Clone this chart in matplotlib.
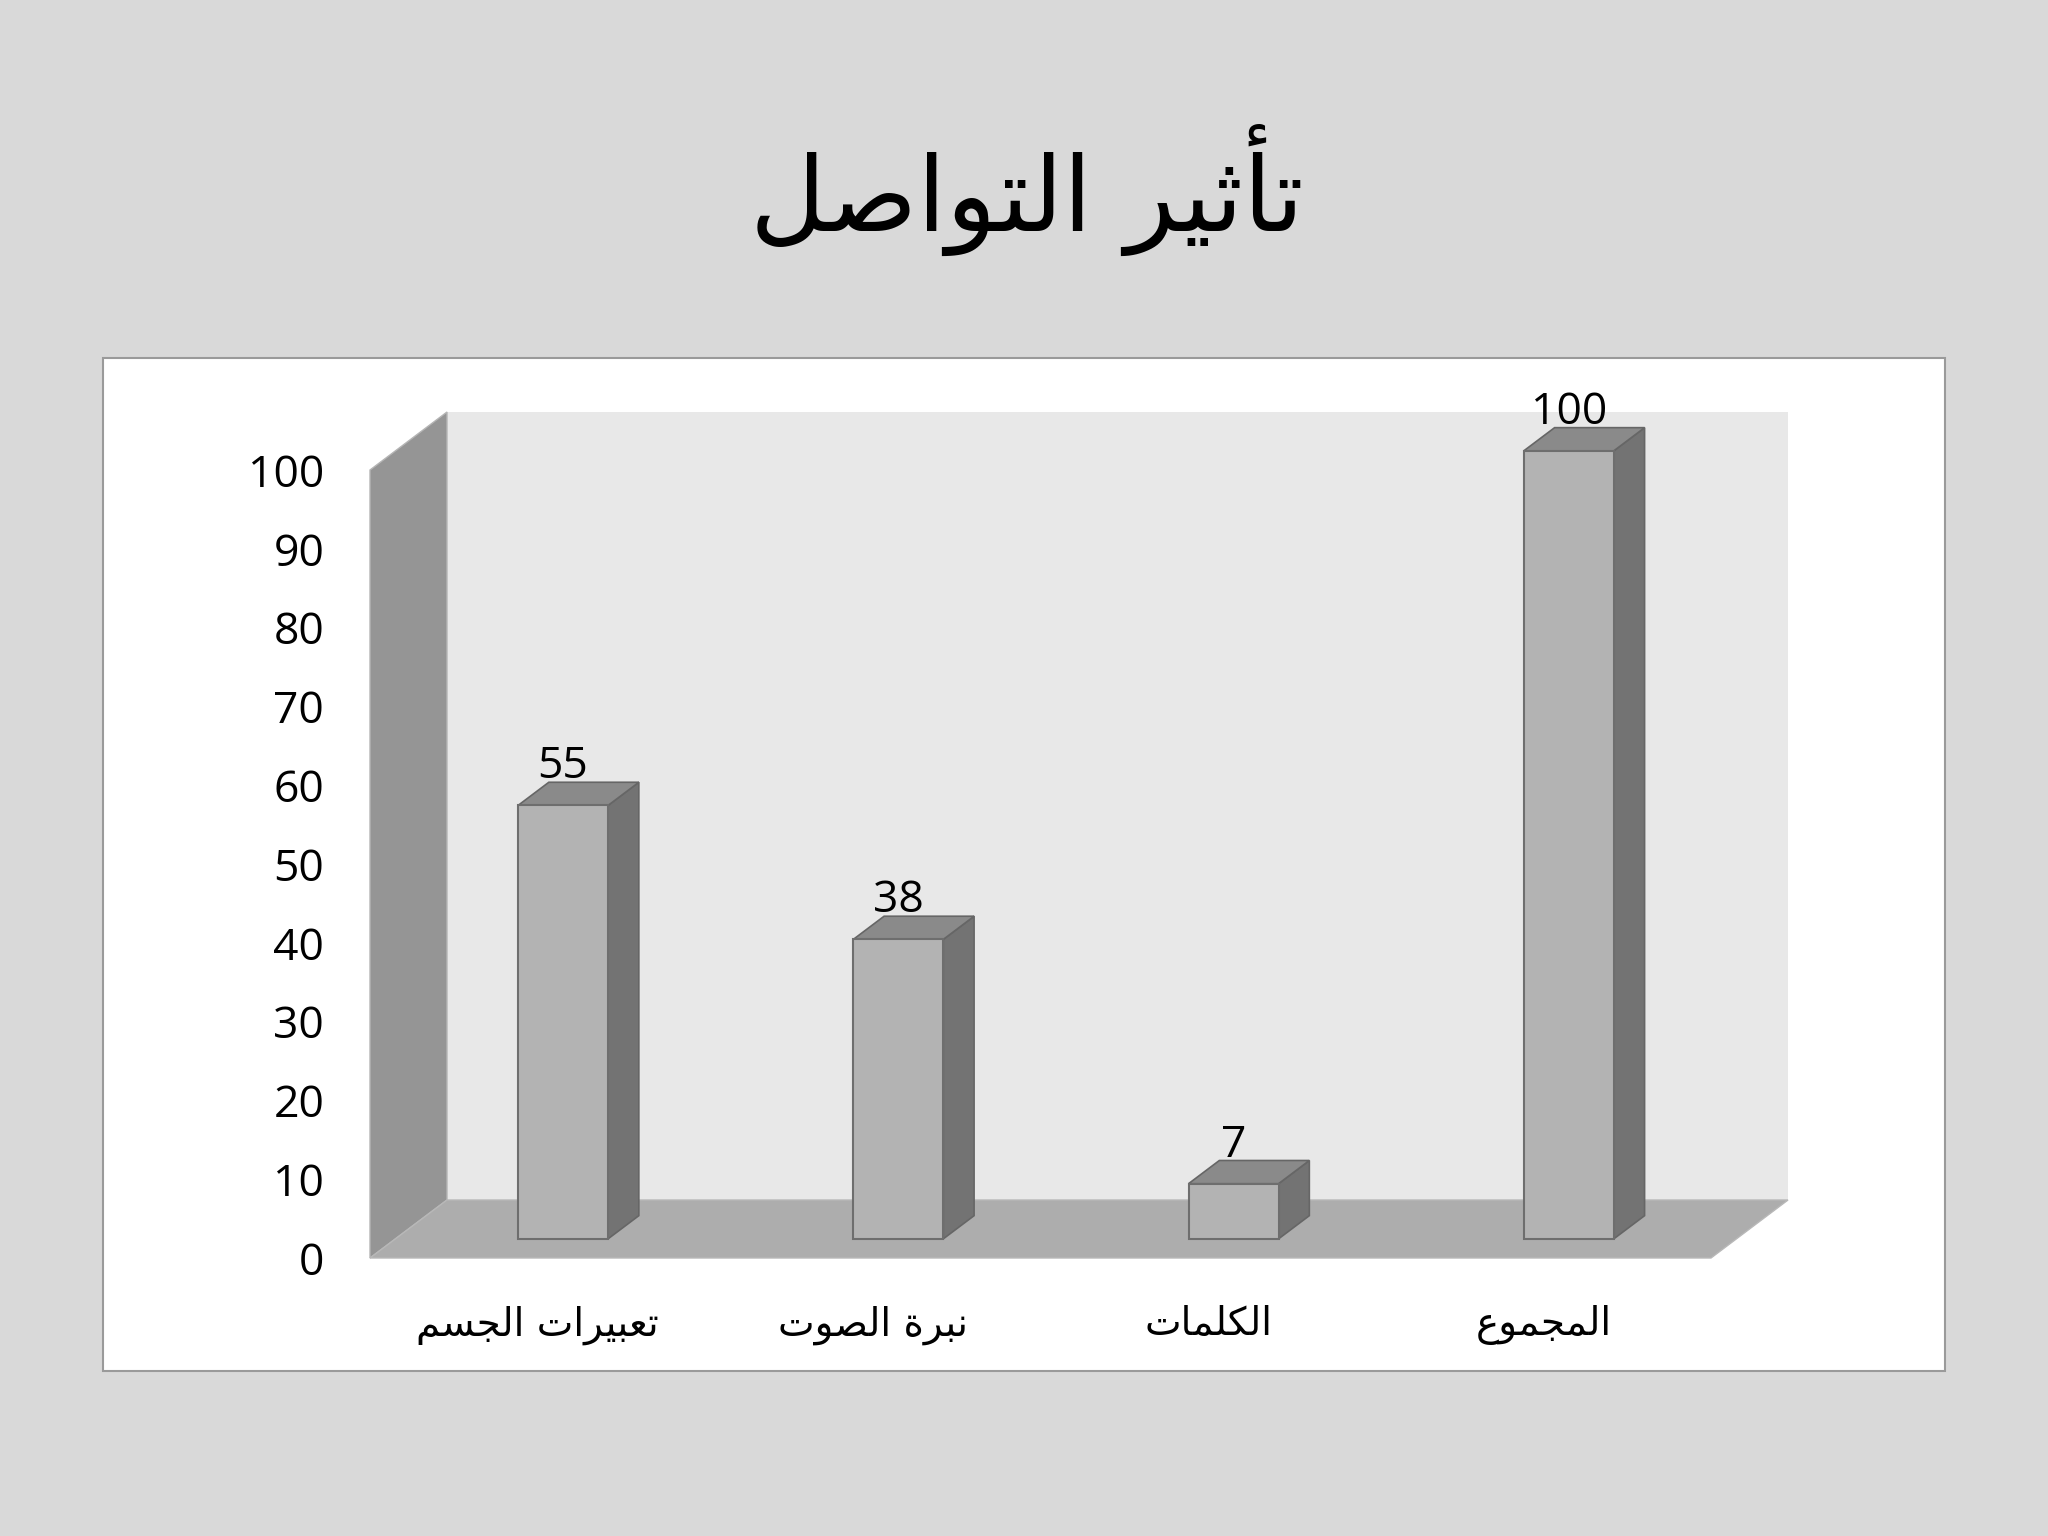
import matplotlib
matplotlib.use("Agg")
import matplotlib.pyplot as plt
from matplotlib.patches import Polygon, Rectangle

# chart data
title = "تأثير التواصل"
categories = ["تعبيرات الجسم", "نبرة الصوت", "الكلمات", "المجموع"]
values = [55, 38, 7, 100]
y_ticks = [0, 10, 20, 30, 40, 50, 60, 70, 80, 90, 100]

# matplotlib does not shape arabic, so map letters to presentation forms
FORMS = {
    'ا': ('\uFE8D', '\uFE8E'),
    'أ': ('\uFE83', '\uFE84'),
    'ب': ('\uFE8F', '\uFE90', '\uFE91', '\uFE92'),
    'ة': ('\uFE93', '\uFE94'),
    'ت': ('\uFE95', '\uFE96', '\uFE97', '\uFE98'),
    'ث': ('\uFE99', '\uFE9A', '\uFE9B', '\uFE9C'),
    'ج': ('\uFE9D', '\uFE9E', '\uFE9F', '\uFEA0'),
    'ر': ('\uFEAD', '\uFEAE'),
    'س': ('\uFEB1', '\uFEB2', '\uFEB3', '\uFEB4'),
    'ص': ('\uFEB9', '\uFEBA', '\uFEBB', '\uFEBC'),
    'ع': ('\uFEC9', '\uFECA', '\uFECB', '\uFECC'),
    'ك': ('\uFED9', '\uFEDA', '\uFEDB', '\uFEDC'),
    'ل': ('\uFEDD', '\uFEDE', '\uFEDF', '\uFEE0'),
    'م': ('\uFEE1', '\uFEE2', '\uFEE3', '\uFEE4'),
    'ن': ('\uFEE5', '\uFEE6', '\uFEE7', '\uFEE8'),
    'و': ('\uFEED', '\uFEEE'),
    'ي': ('\uFEF1', '\uFEF2', '\uFEF3', '\uFEF4'),
}


def shape(text):
    out = []
    for i, ch in enumerate(text):
        if ch not in FORMS:
            out.append(ch)
            continue
        prev = text[i - 1] if i > 0 else ''
        nxt = text[i + 1] if i + 1 < len(text) else ''
        joins_prev = prev in FORMS and len(FORMS[prev]) == 4
        joins_next = len(FORMS[ch]) == 4 and nxt in FORMS
        f = FORMS[ch]
        if joins_prev and joins_next:
            out.append(f[3])
        elif joins_prev:
            out.append(f[1])
        elif joins_next:
            out.append(f[2])
        else:
            out.append(f[0])
    return ''.join(out)[::-1]


W, H = 2048, 1536
fig = plt.figure(figsize=(W / 100, H / 100), dpi=100)
fig.patch.set_facecolor('#d9d9d9')

# white chart area
fig.add_artist(Rectangle((103 / W, 1 - 1371 / H), (1945 - 103) / W, (1371 - 358) / H,
                         transform=fig.transFigure, facecolor='white',
                         edgecolor='#9a9a9a', linewidth=1.5, zorder=0))

fig.text(1027 / W, 1 - 190 / H, shape(title), ha='center', va='center',
         fontsize=75, family='DejaVu Sans', color='black')

ax = fig.add_axes([370 / W, 1 - 1258 / H, (1711 - 370) / W, (1258 - 470) / H])
ax.set_zorder(1)
ax.patch.set_visible(False)
n = len(categories)
ax.set_xlim(-0.5, n - 0.5)
ax.set_ylim(0, 100)
for s in ax.spines.values():
    s.set_visible(False)

# depth of the fake 3d box in data units
DX = 77 / (1341 / n)
DY = 58 / (788 / 100)
x0, x1 = -0.5, n - 0.5

back = Polygon([(x0 + DX, DY), (x1 + DX, DY), (x1 + DX, 100 + DY), (x0 + DX, 100 + DY)],
               closed=True, facecolor='#e8e8e8', edgecolor='none', clip_on=False, zorder=1)
left = Polygon([(x0, 0), (x0 + DX, DY), (x0 + DX, 100 + DY), (x0, 100)],
               closed=True, facecolor='#959595', edgecolor='#b5b5b5', linewidth=1, clip_on=False, zorder=2)
floor = Polygon([(x0, 0), (x1, 0), (x1 + DX, DY), (x0 + DX, DY)],
                closed=True, facecolor='#adadad', edgecolor='#b8b8b8', linewidth=1, clip_on=False, zorder=2)
for p in (back, left, floor):
    ax.add_patch(p)

# bars sit part way into the box
F1 = 0.33
BD = 0.40
BW = 90 / (1341 / n)
xs = [i + F1 * DX for i in range(n)]
base = F1 * DY
ax.bar(xs, values, width=BW, bottom=base, color='#b3b3b3', edgecolor='#6e6e6e',
       linewidth=1.5, zorder=4, clip_on=False)

for x, v in zip(xs, values):
    xl, xr = x - BW / 2, x + BW / 2
    top = base + v
    side = Polygon([(xr, base), (xr + BD * DX, base + BD * DY), (xr + BD * DX, top + BD * DY), (xr, top)],
                   closed=True, facecolor='#737373', edgecolor='#666666', linewidth=1.2,
                   clip_on=False, zorder=3)
    cap = Polygon([(xl, top), (xr, top), (xr + BD * DX, top + BD * DY), (xl + BD * DX, top + BD * DY)],
                  closed=True, facecolor='#8a8a8a', edgecolor='#666666', linewidth=1.2,
                  clip_on=False, zorder=3)
    ax.add_patch(side)
    ax.add_patch(cap)
    ax.text(x, top + BD * DY + 0.5, str(v), ha='center', va='baseline',
            fontsize=32, family='Open Sans', color='black', zorder=5)

ax.set_yticks(y_ticks)
ax.set_yticklabels([str(t) for t in y_ticks], fontsize=32, family='Open Sans')
ax.set_xticks(range(n))
ax.set_xticklabels([shape(c) for c in categories], fontsize=28, family='DejaVu Sans')
ax.tick_params(axis='y', length=0, pad=33)
ax.tick_params(axis='x', length=0, pad=34)

fig.savefig('out.png', dpi=100, facecolor=fig.get_facecolor())
